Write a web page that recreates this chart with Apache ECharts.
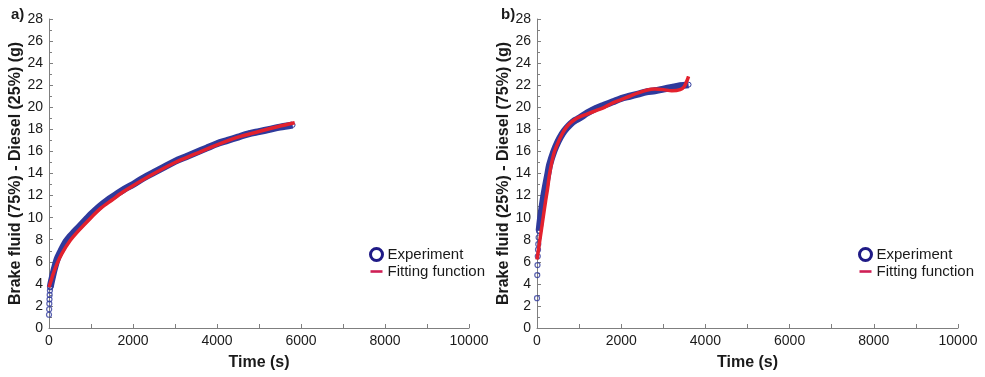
<!DOCTYPE html>
<html>
<head>
<meta charset="utf-8">
<script src="https://cdn.jsdelivr.net/npm/echarts@6/dist/echarts.min.js"></script>
<style>
  html, body { margin: 0; padding: 0; background: #fff; }
  #chart { width: 985px; height: 377px; }
</style>
</head>
<body>
<div id="chart"></div>
<script>
// values: [time (s), mass (g)]
var expA = [[0,1.2],[4,1.7],[8,2.2],[12,2.6],[16,3.0],[22,3.4],[30,3.7],[45,4.0],[80,4.6],[130,5.4],[200,6.3],[300,7.1],[400,7.8],[500,8.3],[600,8.7],[700,9.1],[800,9.5],[900,9.9],[1000,10.3],[1200,11.0],[1400,11.6],[1600,12.1],[1800,12.6],[2000,13.0],[2250,13.6],[2500,14.1],[2750,14.6],[3000,15.1],[3250,15.5],[3500,15.9],[3750,16.3],[4000,16.7],[4250,17.0],[4500,17.3],[4750,17.6],[5000,17.8],[5250,18.0],[5500,18.2],[5800,18.4]];
var fitA = [[0,3.7],[50,4.3],[100,4.9],[200,5.9],[300,6.7],[500,7.9],[700,8.8],[1000,10.0],[1250,10.9],[1500,11.6],[1750,12.3],[2000,12.9],[2500,14.0],[3000,15.0],[3500,15.8],[4000,16.6],[4500,17.3],[5000,17.8],[5500,18.3],[5850,18.6]];

var expB = [[0,2.7],[6,4.8],[12,5.7],[18,6.5],[24,7.1],[30,7.6],[38,8.2],[50,8.8],[70,9.5],[100,10.4],[150,11.7],[200,12.8],[250,13.8],[300,14.8],[400,16.0],[500,16.9],[600,17.6],[700,18.1],[800,18.5],[900,18.8],[1000,19.0],[1200,19.5],[1400,19.9],[1600,20.2],[1800,20.5],[2000,20.8],[2200,21.0],[2400,21.2],[2600,21.4],[2800,21.5],[3000,21.65],[3200,21.8],[3400,21.95],[3600,22.05]];
var fitB = [[0,6.2],[50,7.5],[100,8.8],[150,10.1],[200,11.4],[250,12.6],[300,14.0],[400,15.8],[500,16.8],[600,17.6],[700,18.2],[800,18.6],[900,18.9],[1000,19.1],[1200,19.4],[1400,19.7],[1600,20.0],[1800,20.4],[2000,20.7],[2200,21.0],[2400,21.3],[2600,21.55],[2800,21.65],[3000,21.6],[3200,21.5],[3400,21.6],[3500,21.9],[3600,22.8]];

// first points sit apart as single circles, the rest form a dense band
var looseA = 7;
var looseB = 8;

var yNames = ['Brake fluid (75%) - Diesel (25%) (g)', 'Brake fluid (25%) - Diesel (75%) (g)'];
var panelLabels = ['a)', 'b)'];

var blue = '#2f3a9c';
var red = '#e3212d';
var axisGray = '#7f7f7f';
var font = '"Liberation Sans", Arial, sans-serif';

var chart = echarts.init(document.getElementById('chart'), null, { renderer: 'canvas' });

function xAxis(i) {
  return {
    gridIndex: i, type: 'value', min: 0, max: 10000, interval: 2000,
    name: 'Time (s)', nameLocation: 'middle', nameGap: 27,
    nameTextStyle: { fontFamily: font, fontSize: 16, fontWeight: 'bold', color: '#1a1a1a' },
    axisLine: { lineStyle: { color: axisGray } },
    axisTick: { inside: true, length: 4, lineStyle: { color: axisGray } },
    minorTick: { show: true, splitNumber: 2, length: 4, lineStyle: { color: axisGray } },
    axisLabel: { fontFamily: font, fontSize: 14, color: '#1a1a1a', margin: 6, formatter: function (v) { return String(v); } },
    splitLine: { show: false }
  };
}

function yAxis(i) {
  return {
    gridIndex: i, type: 'value', min: 0, max: 28, interval: 2,
    name: yNames[i], nameLocation: 'middle', nameGap: 24,
    nameTextStyle: { fontFamily: font, fontSize: 16, fontWeight: 'bold', color: '#1a1a1a' },
    axisLine: { show: true, lineStyle: { color: axisGray } },
    axisTick: { inside: true, length: 4, lineStyle: { color: axisGray } },
    minorTick: { show: true, splitNumber: 2, length: 3, lineStyle: { color: axisGray } },
    axisLabel: { fontFamily: font, fontSize: 14, color: '#1a1a1a', margin: 6 },
    splitLine: { show: false }
  };
}

function expBand(i, data, from) {
  return {
    name: 'Experiment', type: 'line', xAxisIndex: i, yAxisIndex: i,
    data: data.slice(from - 1), smooth: 0.3,
    symbol: 'circle', symbolSize: 5, showAllSymbol: true,
    itemStyle: { color: 'rgba(0,0,0,0)', borderColor: blue, borderWidth: 1 },
    lineStyle: { color: blue, width: 7 },
    z: 2, animation: false
  };
}

function expLoose(i, data, to) {
  return {
    name: 'Experiment', type: 'scatter', xAxisIndex: i, yAxisIndex: i,
    data: data.slice(0, to), symbol: 'circle', symbolSize: 5,
    itemStyle: { color: 'rgba(0,0,0,0)', borderColor: blue, borderWidth: 1.2 },
    z: 2, animation: false
  };
}

function fitSeries(i, data) {
  return {
    name: 'Fitting function', type: 'line', xAxisIndex: i, yAxisIndex: i,
    data: data, smooth: 0.3, symbol: 'none',
    itemStyle: { color: red },
    lineStyle: { color: red, width: 3.5 },
    z: 3, animation: false
  };
}

function legend(left) {
  return {
    left: left, top: 242, orient: 'vertical',
    itemWidth: 12, itemHeight: 12, itemGap: 2,
    symbolKeepAspect: true,
    textStyle: { fontFamily: font, fontSize: 15, color: '#1a1a1a' },
    selectedMode: false,
    data: [
      { name: 'Experiment', icon: 'circle', itemStyle: { color: '#fff', borderColor: '#1f1a86', borderWidth: 3, opacity: 1 } },
      { name: 'Fitting function', icon: 'path://M0,0 L12,0 L12,2.6 L0,2.6 Z', itemStyle: { color: '#cf1f55', borderWidth: 0 } }
    ]
  };
}

var option = {
  backgroundColor: '#fff',
  animation: false,
  grid: [
    { left: 49, top: 19, width: 420, height: 309 },
    { left: 537, top: 19, width: 421, height: 309 }
  ],
  xAxis: [xAxis(0), xAxis(1)],
  yAxis: [yAxis(0), yAxis(1)],
  legend: [legend(364), legend(853)],
  graphic: [
    { type: 'text', left: 11, top: 7, style: { text: panelLabels[0], font: 'bold 15px ' + font, fill: '#1a1a1a' } },
    { type: 'text', left: 501, top: 7, style: { text: panelLabels[1], font: 'bold 15px ' + font, fill: '#1a1a1a' } }
  ],
  series: [
    expLoose(0, expA, looseA), expBand(0, expA, looseA), fitSeries(0, fitA),
    expLoose(1, expB, looseB), expBand(1, expB, looseB), fitSeries(1, fitB)
  ]
};

chart.setOption(option);
</script>
</body>
</html>
